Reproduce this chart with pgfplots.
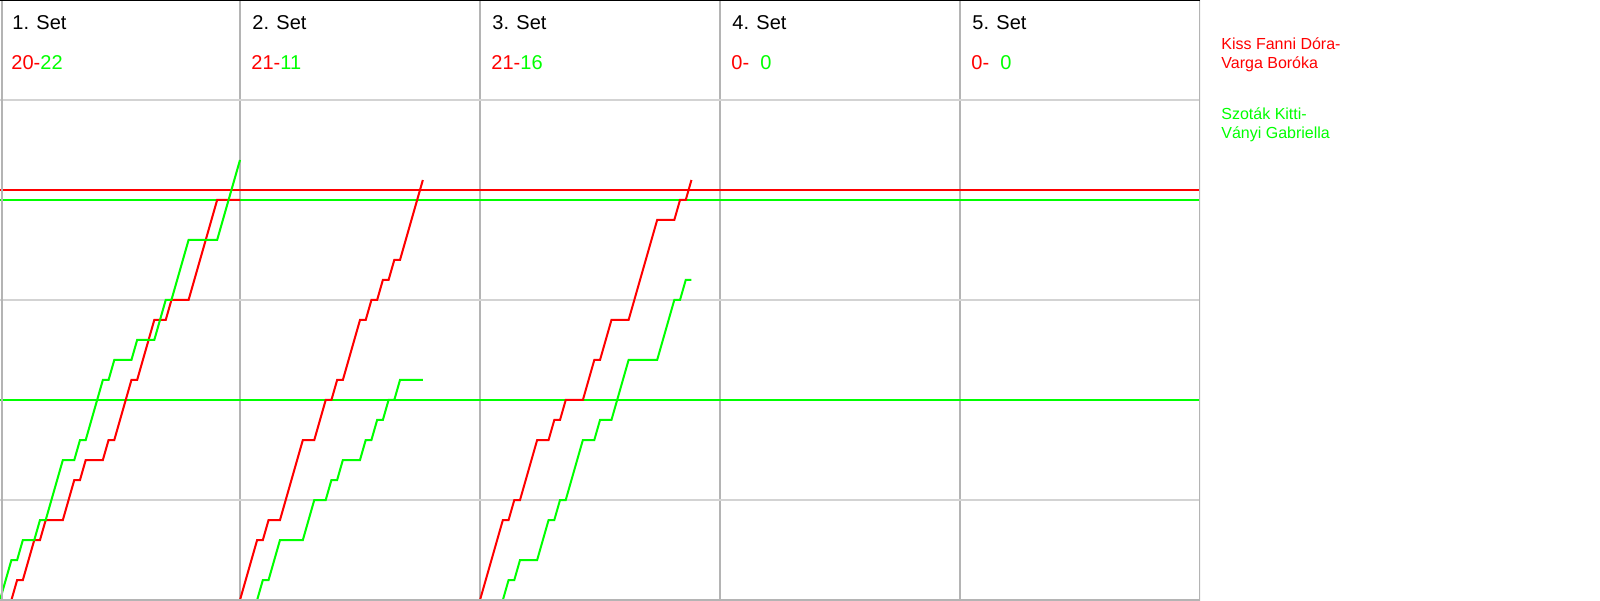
\documentclass[border=0pt]{standalone}
\usepackage{fontspec}
\setmainfont{Liberation Sans}
\usepackage{pgfplots}
\pgfplotsset{compat=1.18}
\definecolor{cred}{RGB}{255,0,0}
\definecolor{cgreen}{RGB}{0,255,0}
\definecolor{cborder}{RGB}{180,180,180}
\definecolor{cgrid}{RGB}{211,211,211}
\begin{document}
\begin{tikzpicture}
\useasboundingbox (0,0) rectangle (800pt,300pt);
\begin{axis}[at={(0,0)}, anchor=south west, scale only axis,
  width=600pt, height=300pt, xmin=0, xmax=210, ymin=0, ymax=30,
  axis line style={draw=none},
  xtick={42,84,126,168}, ytick={5,15,25},
  xticklabels={}, yticklabels={}, major tick length=0pt,
  grid=major,
  x grid style={cborder, line width=0.6pt},
  y grid style={cgrid, line width=0.6pt}]
% reference lines
\addplot[cred, line width=1pt] coordinates {(0,20.5)(210,20.5)};
\addplot[cgreen, line width=1pt] coordinates {(0,20)(210,20)};
\addplot[cgreen, line width=1pt] coordinates {(0,10)(210,10)};
% Set 1
\addplot[cred, line width=1pt] coordinates {(0,0)(1,0)(2,0)(3,1)(4,1)(5,2)(6,3)(7,3)(8,4)(9,4)(10,4)(11,4)(12,5)(13,6)(14,6)(15,7)(16,7)(17,7)(18,7)(19,8)(20,8)(21,9)(22,10)(23,11)(24,11)(25,12)(26,13)(27,14)(28,14)(29,14)(30,15)(31,15)(32,15)(33,15)(34,16)(35,17)(36,18)(37,19)(38,20)(39,20)(40,20)(41,20)(42,20)};
\addplot[cgreen, line width=1pt] coordinates {(0,0)(1,1)(2,2)(3,2)(4,3)(5,3)(6,3)(7,4)(8,4)(9,5)(10,6)(11,7)(12,7)(13,7)(14,8)(15,8)(16,9)(17,10)(18,11)(19,11)(20,12)(21,12)(22,12)(23,12)(24,13)(25,13)(26,13)(27,13)(28,14)(29,15)(30,15)(31,16)(32,17)(33,18)(34,18)(35,18)(36,18)(37,18)(38,18)(39,19)(40,20)(41,21)(42,22)};
% Set 2
\addplot[cred, line width=1pt] coordinates {(42,0)(43,1)(44,2)(45,3)(46,3)(47,4)(48,4)(49,4)(50,5)(51,6)(52,7)(53,8)(54,8)(55,8)(56,9)(57,10)(58,10)(59,11)(60,11)(61,12)(62,13)(63,14)(64,14)(65,15)(66,15)(67,16)(68,16)(69,17)(70,17)(71,18)(72,19)(73,20)(74,21)};
\addplot[cgreen, line width=1pt] coordinates {(42,0)(43,0)(44,0)(45,0)(46,1)(47,1)(48,2)(49,3)(50,3)(51,3)(52,3)(53,3)(54,4)(55,5)(56,5)(57,5)(58,6)(59,6)(60,7)(61,7)(62,7)(63,7)(64,8)(65,8)(66,9)(67,9)(68,10)(69,10)(70,11)(71,11)(72,11)(73,11)(74,11)};
% Set 3
\addplot[cred, line width=1pt] coordinates {(84,0)(85,1)(86,2)(87,3)(88,4)(89,4)(90,5)(91,5)(92,6)(93,7)(94,8)(95,8)(96,8)(97,9)(98,9)(99,10)(100,10)(101,10)(102,10)(103,11)(104,12)(105,12)(106,13)(107,14)(108,14)(109,14)(110,14)(111,15)(112,16)(113,17)(114,18)(115,19)(116,19)(117,19)(118,19)(119,20)(120,20)(121,21)};
\addplot[cgreen, line width=1pt] coordinates {(84,0)(85,0)(86,0)(87,0)(88,0)(89,1)(90,1)(91,2)(92,2)(93,2)(94,2)(95,3)(96,4)(97,4)(98,5)(99,5)(100,6)(101,7)(102,8)(103,8)(104,8)(105,9)(106,9)(107,9)(108,10)(109,11)(110,12)(111,12)(112,12)(113,12)(114,12)(115,12)(116,13)(117,14)(118,15)(119,15)(120,16)(121,16)};
% frame
\draw[cborder, line width=1pt] ([xshift=1.2pt]rel axis cs:0,1) -- ([xshift=1.2pt]rel axis cs:0,0);
\draw[cborder, line width=1pt] (rel axis cs:0,0) -- (rel axis cs:1,0) -- (rel axis cs:1,1);
\draw[black, line width=0.8pt] (rel axis cs:0,1) -- (rel axis cs:1,1);
\end{axis}
% headers
\foreach \k/\a/\b [count=\i from 0] in {1/20/22, 2/21/11, 3/21/16, 4/0/0, 5/0/0} {
  \node[anchor=base west, inner sep=0pt, font=\fontsize{10}{12}\selectfont] at (120pt*\i+6pt, 285pt) {\k. Set};
  \node[anchor=base west, inner sep=0pt, text=cred, font=\fontsize{10}{12}\selectfont] at (120pt*\i+5.5pt, 265pt) {\a-};
  \node[anchor=base west, inner sep=0pt, text=cgreen, font=\fontsize{10}{12}\selectfont] at (120pt*\i+20pt, 265pt) {\b};
}
% legend
\node[anchor=base west, inner sep=0pt, text=cred, font=\fontsize{8}{10}\selectfont] at (610.5pt, 275pt) {Kiss Fanni Dóra-};
\node[anchor=base west, inner sep=0pt, text=cred, font=\fontsize{8}{10}\selectfont] at (610.5pt, 265.5pt) {Varga Boróka};
\node[anchor=base west, inner sep=0pt, text=cgreen, font=\fontsize{8}{10}\selectfont] at (610.5pt, 240pt) {Szoták Kitti-};
\node[anchor=base west, inner sep=0pt, text=cgreen, font=\fontsize{8}{10}\selectfont] at (610.5pt, 230.5pt) {Ványi Gabriella};
\end{tikzpicture}
\end{document}
